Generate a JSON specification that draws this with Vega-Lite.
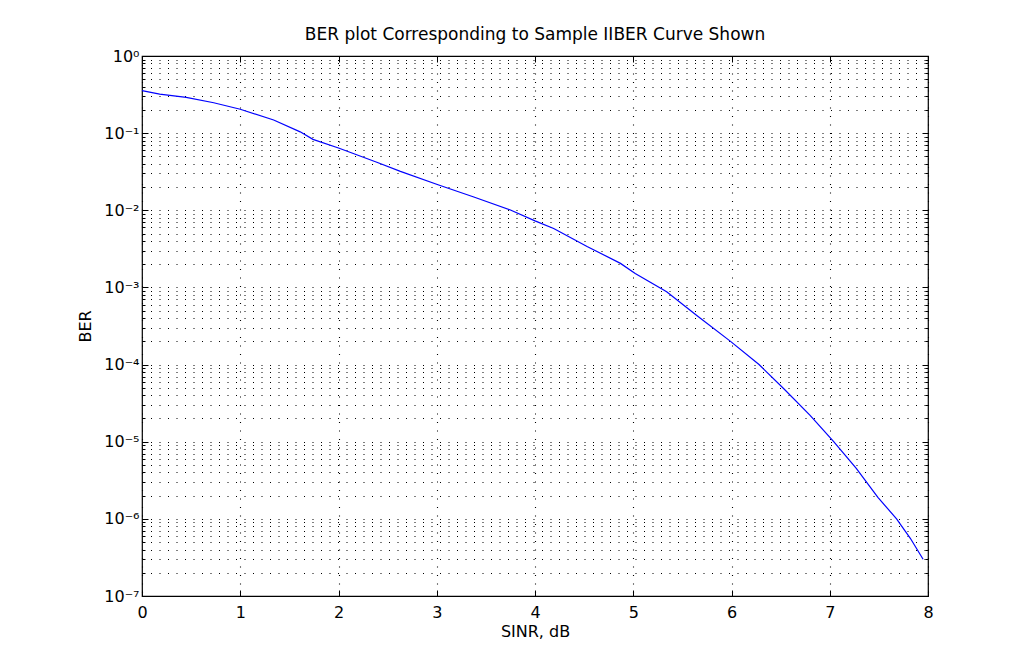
{
  "$schema": "https://vega.github.io/schema/vega-lite/v6.json",
  "width": 786,
  "height": 540,
  "autosize": {"type": "none"},
  "padding": {"left": 142, "top": 56, "right": 88, "bottom": 68},
  "background": "white",
  "config": {
    "view": {"stroke": "black", "strokeWidth": 1.2},
    "font": "DejaVu Sans",
    "axis": {"domain": false}
  },
  "title": {
    "text": "BER plot Corresponding to Sample IIBER Curve Shown",
    "font": "DejaVu Sans",
    "fontSize": 17,
    "fontWeight": "normal",
    "color": "black",
    "anchor": "middle",
    "baseline": "alphabetic",
    "offset": -9
  },
  "data": {
    "values": [
      {"sinr": 0.0, "ber": 0.355},
      {"sinr": 0.18, "ber": 0.321},
      {"sinr": 0.45, "ber": 0.291},
      {"sinr": 0.73, "ber": 0.248},
      {"sinr": 1.0, "ber": 0.204},
      {"sinr": 1.34, "ber": 0.148},
      {"sinr": 1.61, "ber": 0.104},
      {"sinr": 1.74, "ber": 0.083},
      {"sinr": 2.0, "ber": 0.0642},
      {"sinr": 2.39, "ber": 0.042},
      {"sinr": 2.63, "ber": 0.032},
      {"sinr": 3.02, "ber": 0.0213},
      {"sinr": 3.37, "ber": 0.015},
      {"sinr": 3.75, "ber": 0.0101},
      {"sinr": 4.0, "ber": 0.0073},
      {"sinr": 4.19, "ber": 0.0058},
      {"sinr": 4.53, "ber": 0.0034},
      {"sinr": 4.87, "ber": 0.00205},
      {"sinr": 5.02, "ber": 0.00152},
      {"sinr": 5.34, "ber": 0.00088},
      {"sinr": 5.65, "ber": 0.00043},
      {"sinr": 5.99, "ber": 0.0002},
      {"sinr": 6.28, "ber": 0.0001},
      {"sinr": 6.53, "ber": 0.000049},
      {"sinr": 6.8, "ber": 0.000022},
      {"sinr": 7.04, "ber": 0.00001},
      {"sinr": 7.27, "ber": 0.0000045},
      {"sinr": 7.49, "ber": 0.0000019},
      {"sinr": 7.68, "ber": 0.000001},
      {"sinr": 7.82, "ber": 0.00000056},
      {"sinr": 7.95, "ber": 0.0000003}
    ]
  },
  "layer": [
    {
      "mark": {"type": "line", "color": "#0000ff", "strokeWidth": 1.2},
      "encoding": {
        "x": {
          "field": "sinr",
          "type": "quantitative",
          "scale": {"domain": [0, 8], "nice": false, "zero": false},
          "axis": {
            "orient": "bottom",
            "values": [0, 1, 2, 3, 4, 5, 6, 7, 8],
            "title": "SINR, dB",
            "titleFont": "DejaVu Sans",
            "titleFontSize": 16,
            "titleFontWeight": "normal",
            "titleColor": "black",
            "titlePadding": 3,
            "labelFont": "DejaVu Sans",
            "labelFontSize": 16,
            "labelColor": "black",
            "labelPadding": 14,
            "labelBaseline": "top",
            "labelFlush": false,
            "labelOverlap": false,
            "ticks": true,
            "tickColor": "black",
            "tickSize": -6,
            "tickWidth": 1,
            "grid": true,
            "gridColor": "#000000",
            "gridOpacity": 1,
            "gridWidth": 1.1,
            "gridDash": [1, 7.5]
          }
        },
        "y": {
          "field": "ber",
          "type": "quantitative",
          "scale": {"type": "log", "domain": [1e-7, 1], "nice": false},
          "axis": {
            "orient": "left",
            "values": [1e-7, 2e-7, 3e-7, 4e-7, 5e-7, 6e-7, 7e-7, 8e-7, 9e-7,
                       1e-6, 2e-6, 3e-6, 4e-6, 5e-6, 6e-6, 7e-6, 8e-6, 9e-6,
                       1e-5, 2e-5, 3e-5, 4e-5, 5e-5, 6e-5, 7e-5, 8e-5, 9e-5,
                       1e-4, 2e-4, 3e-4, 4e-4, 5e-4, 6e-4, 7e-4, 8e-4, 9e-4,
                       1e-3, 2e-3, 3e-3, 4e-3, 5e-3, 6e-3, 7e-3, 8e-3, 9e-3,
                       1e-2, 2e-2, 3e-2, 4e-2, 5e-2, 6e-2, 7e-2, 8e-2, 9e-2,
                       1e-1, 2e-1, 3e-1, 4e-1, 5e-1, 6e-1, 7e-1, 8e-1, 9e-1, 1],
            "labelExpr": "abs(log(datum.value)/LN10 - round(log(datum.value)/LN10)) < 0.001 ? '10' + ['⁰','⁻¹','⁻²','⁻³','⁻⁴','⁻⁵','⁻⁶','⁻⁷'][-round(log(datum.value)/LN10)] : ''",
            "title": "BER",
            "titleFont": "DejaVu Sans",
            "titleFontSize": 16,
            "titleFontWeight": "normal",
            "titleColor": "black",
            "titlePadding": 10,
            "labelFont": "DejaVu Sans",
            "labelFontSize": 16,
            "labelColor": "black",
            "labelPadding": 9,
            "labelFlush": false,
            "labelOverlap": false,
            "labelBound": false,
            "ticks": true,
            "tickColor": "black",
            "tickWidth": 1,
            "tickSize": {"condition": {"test": "abs(log(datum.value)/LN10 - round(log(datum.value)/LN10)) < 0.001", "value": -6}, "value": -3},
            "grid": true,
            "gridColor": "#000000",
            "gridOpacity": 1,
            "gridWidth": 1.1,
            "gridDash": [1, 7.5]
          }
        }
      }
    },
    {
      "mark": {"type": "line", "opacity": 0},
      "encoding": {
        "x": {
          "field": "sinr",
          "type": "quantitative",
          "scale": {"domain": [0, 8], "nice": false, "zero": false},
          "axis": {
            "orient": "top",
            "values": [0, 1, 2, 3, 4, 5, 6, 7, 8],
            "title": null,
            "labels": false,
            "grid": false,
            "ticks": true,
            "tickColor": "black",
            "tickSize": -6,
            "tickWidth": 1
          }
        },
        "y": {
          "field": "ber",
          "type": "quantitative",
          "scale": {"type": "log", "domain": [1e-7, 1], "nice": false},
          "axis": {
            "orient": "right",
            "values": [1e-7, 2e-7, 3e-7, 4e-7, 5e-7, 6e-7, 7e-7, 8e-7, 9e-7,
                       1e-6, 2e-6, 3e-6, 4e-6, 5e-6, 6e-6, 7e-6, 8e-6, 9e-6,
                       1e-5, 2e-5, 3e-5, 4e-5, 5e-5, 6e-5, 7e-5, 8e-5, 9e-5,
                       1e-4, 2e-4, 3e-4, 4e-4, 5e-4, 6e-4, 7e-4, 8e-4, 9e-4,
                       1e-3, 2e-3, 3e-3, 4e-3, 5e-3, 6e-3, 7e-3, 8e-3, 9e-3,
                       1e-2, 2e-2, 3e-2, 4e-2, 5e-2, 6e-2, 7e-2, 8e-2, 9e-2,
                       1e-1, 2e-1, 3e-1, 4e-1, 5e-1, 6e-1, 7e-1, 8e-1, 9e-1, 1],
            "title": null,
            "labels": false,
            "grid": false,
            "ticks": true,
            "tickColor": "black",
            "tickWidth": 1,
            "tickSize": {"condition": {"test": "abs(log(datum.value)/LN10 - round(log(datum.value)/LN10)) < 0.001", "value": -6}, "value": -3}
          }
        }
      }
    }
  ],
  "resolve": {"axis": {"x": "independent", "y": "independent"}}
}
